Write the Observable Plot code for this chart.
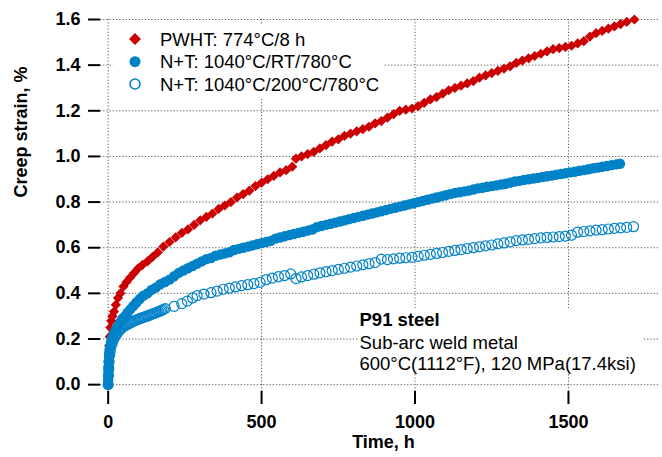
<!DOCTYPE html>
<html>
<head>
<meta charset="utf-8">
<script src="https://cdn.jsdelivr.net/npm/d3@7"></script>
<script src="https://cdn.jsdelivr.net/npm/@observablehq/plot@0.6"></script>
<style>
  html, body { margin: 0; padding: 0; background: #fff; }
  #wrap { position: relative; width: 662px; height: 457px; overflow: hidden; }
  .ov { position: absolute; background: #fff; }
  .ov text { font-family: "Liberation Sans", Arial, sans-serif; font-size: 18.5px; fill: #000; }
</style>
</head>
<body>
<div id="wrap">
  <div id="chart"></div>
  <svg class="ov" style="left:113px;top:24px" width="270" height="73">
    <path d="M22,9 L28,15 L22,21 L16,15 Z" fill="#cc0000"></path>
    <circle cx="22" cy="37.7" r="5.5" fill="#0082c8"></circle>
    <circle cx="22" cy="60" r="5" fill="none" stroke="#0082c8" stroke-width="1.5"></circle>
    <text x="47" y="21.5">PWHT: 774°C/8 h</text>
    <text x="47" y="44.2">N+T: 1040°C/RT/780°C</text>
    <text x="47" y="66.8">N+T: 1040°C/200°C/780°C</text>
  </svg>
  <svg class="ov" style="left:358px;top:308px" width="286" height="66">
    <text x="1.5" y="18" font-weight="bold">P91 steel</text>
    <text x="1.5" y="40.5">Sub-arc weld metal</text>
    <text x="1.5" y="61.5">600°C(1112°F), 120 MPa(17.4ksi)</text>
  </svg>
</div>
<script>
// ---- Data ----
const xTicks = [0, 500, 1000, 1500];
const yTicks = [0, 0.2, 0.4, 0.6, 0.8, 1.0, 1.2, 1.4, 1.6];

// PWHT: 774°C/8 h  (time h, creep strain %)
const pwhtTime = [0,1,2,3,5,7,10,14,19,25,32,40,50,60,72,85,98,112,128,145,162,180,200,220,240,260,280,300,320,340,360,380,400,420,440,460,480,500,520,540,560,580,600,612,630,650,670,690,710,730,750,770,790,810,830,850,870,890,910,930,950,970,990,1010,1030,1050,1070,1090,1110,1130,1150,1170,1190,1210,1230,1250,1270,1290,1310,1330,1350,1370,1390,1410,1430,1450,1470,1490,1510,1530,1550,1570,1590,1610,1630,1650,1670,1690,1715];
const pwhtStrain = [0.02,0.08,0.13,0.17,0.21,0.25,0.28,0.30,0.32,0.35,0.38,0.40,0.43,0.45,0.47,0.49,0.51,0.525,0.54,0.56,0.58,0.605,0.625,0.645,0.665,0.68,0.70,0.72,0.735,0.75,0.77,0.785,0.80,0.82,0.835,0.85,0.87,0.885,0.90,0.915,0.93,0.94,0.955,0.99,1.0,1.01,1.02,1.035,1.05,1.065,1.075,1.09,1.10,1.11,1.12,1.13,1.145,1.155,1.17,1.185,1.20,1.205,1.21,1.22,1.235,1.25,1.26,1.275,1.29,1.30,1.31,1.32,1.33,1.345,1.355,1.365,1.375,1.385,1.395,1.41,1.42,1.43,1.44,1.45,1.46,1.47,1.475,1.48,1.485,1.495,1.505,1.525,1.54,1.55,1.56,1.57,1.58,1.59,1.60];

// N+T: 1040°C/RT/780°C
const rtTime = [0,0,0.5,1,1.5,2,3,4,5,7,9,12,15,19,23,28,34,40,47,55,63,72,82,92,103,115,128,141,155,170,185,200,215,230,245,260,275,290,305,320,335,350,365,380,395,410,425,440,455,470,485,500,515,530,545,560,575,590,605,620,635,650,665,680,695,710,725,740,755,770,785,800,815,830,845,860,875,890,905,920,935,950,965,980,995,1010,1025,1040,1055,1070,1085,1100,1115,1130,1145,1160,1175,1190,1205,1220,1235,1250,1265,1280,1295,1310,1325,1340,1355,1370,1385,1400,1415,1430,1445,1460,1475,1490,1505,1520,1535,1550,1565,1580,1595,1610,1625,1640,1655,1668];
const rtStrain = [0,0.02,0.04,0.06,0.08,0.10,0.12,0.14,0.155,0.17,0.185,0.2,0.21,0.22,0.235,0.25,0.26,0.275,0.29,0.30,0.315,0.33,0.345,0.36,0.375,0.39,0.40,0.415,0.425,0.44,0.45,0.46,0.475,0.49,0.50,0.51,0.52,0.53,0.54,0.55,0.555,0.565,0.57,0.575,0.58,0.59,0.595,0.60,0.605,0.61,0.615,0.62,0.625,0.63,0.64,0.645,0.65,0.655,0.66,0.665,0.67,0.675,0.68,0.69,0.695,0.70,0.705,0.71,0.715,0.72,0.725,0.73,0.735,0.74,0.745,0.75,0.755,0.76,0.765,0.77,0.775,0.78,0.785,0.79,0.795,0.80,0.805,0.81,0.815,0.82,0.825,0.83,0.835,0.84,0.843,0.847,0.85,0.855,0.86,0.863,0.867,0.87,0.873,0.877,0.88,0.885,0.89,0.893,0.897,0.90,0.903,0.906,0.91,0.913,0.916,0.92,0.923,0.926,0.93,0.933,0.937,0.94,0.944,0.948,0.951,0.955,0.958,0.962,0.965,0.968];

// N+T: 1040°C/200°C/780°C
const hotTime = [0,1,2,3,5,7,10,14,18,22,26,30,34,38,42,46,50,55,60,65,70,75,80,85,90,95,100,105,110,115,120,125,130,135,140,145,150,155,160,165,170,175,180,186,215,240,258,275,290,312,335,355,375,395,415,435,455,475,495,515,535,555,575,595,612,630,650,670,690,710,730,750,770,790,810,830,850,870,890,910,930,950,970,990,1010,1030,1050,1070,1090,1110,1130,1150,1170,1190,1210,1230,1250,1270,1290,1310,1330,1350,1370,1390,1410,1430,1450,1470,1490,1510,1530,1550,1570,1590,1610,1630,1650,1670,1690,1712];
const hotStrain = [0,0.04,0.07,0.10,0.13,0.15,0.17,0.185,0.20,0.21,0.22,0.225,0.235,0.24,0.245,0.25,0.255,0.26,0.262,0.266,0.27,0.272,0.276,0.28,0.282,0.285,0.288,0.29,0.293,0.295,0.297,0.30,0.302,0.305,0.307,0.31,0.312,0.315,0.318,0.32,0.323,0.326,0.33,0.333,0.343,0.355,0.366,0.38,0.39,0.397,0.403,0.41,0.418,0.423,0.428,0.434,0.438,0.443,0.448,0.46,0.467,0.473,0.478,0.485,0.465,0.472,0.478,0.484,0.49,0.495,0.50,0.505,0.51,0.515,0.52,0.525,0.53,0.535,0.55,0.548,0.551,0.554,0.556,0.558,0.562,0.567,0.571,0.575,0.579,0.584,0.588,0.592,0.596,0.60,0.604,0.608,0.612,0.617,0.621,0.626,0.631,0.634,0.637,0.64,0.643,0.645,0.647,0.649,0.651,0.655,0.668,0.671,0.674,0.677,0.679,0.682,0.685,0.687,0.689,0.692];

const pwht = pwhtTime.map((t, i) => ({t, s: pwhtStrain[i]}));
const rt = rtTime.map((t, i) => ({t, s: rtStrain[i]}));
const hot = hotTime.map((t, i) => ({t, s: hotStrain[i]}));

const red = "#cc0000", blue = "#0082c8";
const gridStyle = {stroke: "#555", strokeOpacity: 1, strokeWidth: 1, strokeDasharray: "1.2,2"};

const chart = Plot.plot({
  width: 662,
  height: 457,
  marginLeft: 100,
  marginRight: 2,
  marginTop: 19,
  marginBottom: 66,
  x: {domain: [-25, 1800]},
  y: {domain: [-0.03, 1.6]},
  style: {fontFamily: "'Liberation Sans', Arial, sans-serif", fontSize: "18px", fontWeight: "bold", background: "white", color: "black", overflow: "visible"},
  marks: [
    Plot.gridX(xTicks, gridStyle),
    Plot.gridY(yTicks, gridStyle),
    Plot.axisY(yTicks, {tickSize: 12, tickPadding: 8, strokeWidth: 2, line: true, label: null, tickFormat: d => d.toFixed(1)}),
    Plot.axisX(xTicks, {tickSize: 13, tickPadding: 11, strokeWidth: 2, line: true, label: null, tickFormat: d => String(d)}),
    Plot.dot(pwht, {x: "t", y: "s", symbol: "diamond2", r: 4.6, fill: red, stroke: "none"}),
    Plot.dot(rt, {x: "t", y: "s", r: 5.2, fill: blue, stroke: "none"}),
    Plot.dot(hot, {x: "t", y: "s", r: 5, fill: "none", stroke: blue, strokeWidth: 1.2}),
    Plot.text(["Creep strain, %"], {frameAnchor: "left", dx: -79, dy: -8, rotate: -90, fontSize: 18, fontWeight: "bold"}),
    Plot.text(["Time, h"], {frameAnchor: "bottom", dx: 3, dy: 56, fontSize: 18, fontWeight: "bold"})
  ]
});
document.getElementById("chart").appendChild(chart);
</script>
</body>
</html>
